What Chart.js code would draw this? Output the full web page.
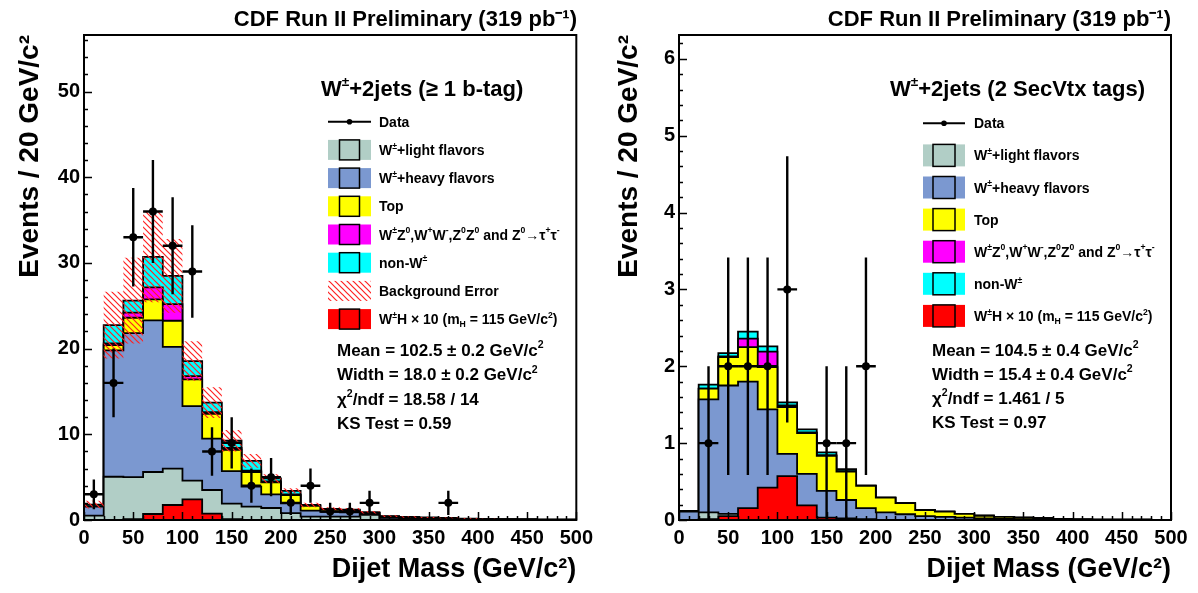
<!DOCTYPE html>
<html><head><meta charset="utf-8">
<script src="https://cdn.jsdelivr.net/npm/chart.js@4.4.1/dist/chart.umd.min.js"></script>
<style>
html,body{margin:0;padding:0;background:#fff;}
#wrap{position:relative;width:1198px;height:593px;overflow:hidden;}
canvas{position:absolute;top:0;}
#c1{left:0}
#c2{left:599px}
</style></head><body>
<div id="wrap"><canvas id="c1" width="599" height="593"></canvas><canvas id="c2" width="599" height="593"></canvas></div>
<script>
// ---------- data ----------
const massBinLow = [0,20,40,60,80,100,120,140,160,180,200,220,240,260,280,300,320,340,360,380,400,420,440,460,480];
const massBinWidth = 20;
const massMax = 500;

// Left: W+2jets (>= 1 b-tag)
const btagData     = [3,16,33,36,32,29,8,9,4,5,2,4,1,1,2,0,0,0,2,0,0,0,0,0,0];
const btagLight    = [0.5,5.05,5.0,5.6,6.0,4.6,3.5,1.9,1.55,1.4,0.8,0.4,0.4,0.4,0.6,0.1,0.05,0.05,0.05,0.02,0.02,0.01,0.01,0,0];
const btagHeavy    = [1.05,14.75,16.8,17.7,14.2,8.7,6.0,3.8,2.35,1.6,1.15,0.7,0.55,0.5,0.2,0.2,0.15,0.1,0.05,0.06,0.04,0.03,0.02,0.02,0.01];
const btagTop      = [0,0.6,1.8,2.45,3.05,3.1,2.9,2.5,1.7,1.4,0.95,0.55,0.25,0.2,0.05,0.1,0.1,0.1,0.1,0.04,0.04,0.03,0.03,0.02,0.02];
const btagDiboson  = [0.05,0.2,0.6,1.4,1.95,0.4,0.2,0.2,0.15,0.1,0.1,0.05,0.05,0.05,0,0,0,0,0,0,0,0,0,0,0];
const btagNonW     = [0.2,2.15,1.4,3.55,3.3,1.75,1.1,0.85,1.15,0.35,0.4,0.05,0.05,0.05,0.05,0.05,0.05,0.05,0.05,0.03,0.02,0.02,0.01,0.01,0.01];
const btagBkgError = [0.45,3.9,5.0,5.3,4.3,2.3,1.8,1.25,0.8,0.5,0.3,0.25,0.2,0.2,0.15,0.1,0.08,0.06,0.05,0.04,0.03,0.02,0.02,0.01,0.01];
const btagHiggs    = [0,0,0.1,0.7,1.75,2.4,0.75,0.1,0,0,0,0,0,0,0,0,0,0,0,0,0,0,0,0,0];

// Right: W+2jets (2 SecVtx tags)
const svtxData     = [0,1,2,2,2,3,0,1,1,2,0,0,0,0,0,0,0,0,0,0,0,0,0,0,0];
const svtxLight    = [0,0.1,0.08,0.02,0.01,0.01,0.01,0.02,0.02,0.01,0,0,0,0,0,0,0,0,0,0,0,0,0,0,0];
const svtxHeavy    = [0.11,1.47,1.67,1.78,1.43,0.85,0.59,0.36,0.24,0.145,0.1,0.075,0.05,0.04,0.03,0.02,0.015,0.01,0.01,0.005,0,0,0,0,0];
const svtxTop      = [0,0.14,0.37,0.45,0.55,0.61,0.53,0.455,0.37,0.29,0.19,0.145,0.08,0.07,0.05,0.035,0.025,0.02,0.015,0.01,0.008,0.005,0.004,0.003,0.002];
const svtxDiboson  = [0,0,0.01,0.11,0.2,0.02,0.01,0.01,0.005,0,0,0,0,0,0,0,0,0,0,0,0,0,0,0,0];
const svtxNonW     = [0.01,0.05,0.04,0.09,0.07,0.04,0.04,0.035,0.025,0.005,0,0,0,0,0,0,0,0,0,0,0,0,0,0,0];
const svtxHiggs    = [0,0.01,0.05,0.155,0.42,0.57,0.19,0.03,0,0,0,0,0,0,0,0,0,0,0,0,0,0,0,0,0];

const titleText = 'CDF Run II Preliminary (319 pb\u207B\u00B9)';
const xTitle = 'Dijet Mass (GeV/c\u00B2)';
const yTitle = 'Events / 20 GeV/c\u00B2';
const entryLabels = {
  data: 'Data',
  light: 'W^{\u00B1}+light flavors',
  heavy: 'W^{\u00B1}+heavy flavors',
  top: 'Top',
  dib: 'W^{\u00B1}Z^{0},W^{+}W^{-},Z^{0}Z^{0} and Z^{0}\u2192\u03C4^{+}\u03C4^{-}',
  nonw: 'non-W^{\u00B1}',
  err: 'Background Error',
  higgs: 'W^{\u00B1}H \u00D7 10 (m_{H} = 115 GeV/c^{2})'
};
const btagHeader = 'W^{\u00B1}+2jets (\u2265 1 b-tag)';
const svtxHeader = 'W^{\u00B1}+2jets (2 SecVtx tags)';
const btagStats = ['Mean = 102.5 \u00B1 0.2 GeV/c^{2}','Width = 18.0 \u00B1 0.2 GeV/c^{2}','\u03C7^{2}/ndf = 18.58 / 14','KS Test = 0.59'];
const svtxStats = ['Mean = 104.5 \u00B1 0.4 GeV/c^{2}','Width = 15.4 \u00B1 0.4 GeV/c^{2}','\u03C7^{2}/ndf = 1.461 / 5','KS Test = 0.97'];

// ---------- style ----------
const FAM = '"Liberation Sans", Arial, Helvetica, sans-serif';
const COL = {light:'#b1cec6', heavy:'#7b98d0', top:'#ffff00', dib:'#ff00ff', nonw:'#00ffff', higgs:'#ff0000'};

function hatchPattern(){
  const s=6, c=document.createElement('canvas'); c.width=s; c.height=s;
  const g=c.getContext('2d'); g.strokeStyle='#ff2020'; g.lineWidth=1.2; g.lineCap='square';
  g.beginPath(); g.moveTo(0,0); g.lineTo(s,s); g.moveTo(s-1,-1); g.lineTo(s+1,1); g.moveTo(-1,s-1); g.lineTo(1,s+1); g.stroke();
  return g.createPattern(c,'repeat');
}
const HATCH = hatchPattern();

function parseRich(str){
  const out=[]; let i=0, buf='';
  while(i<str.length){
    const ch=str[i];
    if((ch==='^'||ch==='_')&&str[i+1]==='{'){
      if(buf){out.push({t:buf,m:0});buf='';}
      const j=str.indexOf('}',i);
      out.push({t:str.slice(i+2,j),m:ch==='^'?1:-1}); i=j+1;
    } else {buf+=ch;i++;}
  }
  if(buf) out.push({t:buf,m:0});
  return out;
}
function drawRich(ctx,str,x,yc,size,align){
  const segs=parseRich(str); let w=0;
  segs.forEach(s=>{s.sz=s.m?size*0.62:size; ctx.font='bold '+s.sz+'px '+FAM; s.w=ctx.measureText(s.t).width; w+=s.w;});
  let cx = align==='right'? x-w : x;
  const base = yc + size*0.36;
  ctx.textBaseline='alphabetic'; ctx.textAlign='left'; ctx.fillStyle='#000';
  segs.forEach(s=>{
    ctx.font='bold '+s.sz+'px '+FAM;
    const dy = s.m===1 ? -size*0.45 : (s.m===-1 ? size*0.2 : 0);
    ctx.fillText(s.t,cx,base+dy); cx+=s.w;
  });
}

function stepPoints(vals){
  const pts=[{x:massBinLow[0],y:0}];
  vals.forEach((v,i)=>pts.push({x:massBinLow[i],y:v}));
  pts.push({x:massMax,y:vals[vals.length-1]});
  pts.push({x:massMax,y:0});
  return pts;
}
function cumulate(list){
  const res=[]; let acc=new Array(list[0].length).fill(0);
  list.forEach(a=>{acc=acc.map((v,i)=>v+a[i]); res.push(acc.slice());});
  return res;
}
function lineDS(vals,color,order,extra){
  return Object.assign({type:'line',data:stepPoints(vals),stepped:'before',fill:'origin',backgroundColor:color,
    borderColor:'#000',borderWidth:1.8,pointRadius:0,tension:0,order:order},extra||{});
}

function makeChart(id, comp, lay){
  const cum = cumulate([comp.light,comp.heavy,comp.top,comp.dib,comp.nonw]);
  const total = cum[4];
  const datasets = [];
  datasets.push({type:'scatter',data:massBinLow.map((m,i)=>({x:m+massBinWidth/2,y:comp.data[i]>0?comp.data[i]:null})),
    pointRadius:4,pointBackgroundColor:'#000',pointBorderColor:'#000',pointBorderWidth:0,order:0,isData:true});
  datasets.push(lineDS(comp.higgs,COL.higgs,1));
  if(comp.err){
    datasets.push(lineDS(total.map((v,i)=>v+comp.err[i]),HATCH,2,{fill:'+1',borderWidth:0,borderColor:'rgba(0,0,0,0)'}));
    datasets.push(lineDS(total.map((v,i)=>Math.max(0,v-comp.err[i])),'rgba(0,0,0,0)',2,{fill:false,borderWidth:0,borderColor:'rgba(0,0,0,0)'}));
  }
  datasets.push(lineDS(cum[0],COL.light,3));
  datasets.push(lineDS(cum[1],COL.heavy,4));
  datasets.push(lineDS(cum[2],COL.top,5));
  datasets.push(lineDS(cum[3],COL.dib,6));
  datasets.push(lineDS(cum[4],COL.nonw,7));

  const deco = {
    id:'rootDeco',
    beforeDatasetDraw(chart,args){
      const ds=chart.data.datasets[args.index];
      if(!ds.isData) return;
      const {ctx,chartArea:a}=chart, xs=chart.scales.x, ys=chart.scales.y;
      ctx.save(); ctx.beginPath(); ctx.rect(a.left,a.top,a.right-a.left,a.bottom-a.top); ctx.clip();
      ctx.strokeStyle='#000'; ctx.lineWidth=2.4; ctx.lineCap='butt';
      ds.data.forEach(p=>{
        if(p.y==null) return;
        const e=Math.sqrt(p.y), px=xs.getPixelForValue(p.x), py=ys.getPixelForValue(p.y);
        ctx.beginPath();
        ctx.moveTo(px,ys.getPixelForValue(p.y+e)); ctx.lineTo(px,ys.getPixelForValue(Math.max(0,p.y-e)));
        ctx.moveTo(xs.getPixelForValue(p.x-massBinWidth/2),py); ctx.lineTo(xs.getPixelForValue(p.x+massBinWidth/2),py);
        ctx.stroke();
      });
      ctx.restore();
    },
    afterDraw(chart){
      const {ctx,chartArea:a}=chart, xs=chart.scales.x, ys=chart.scales.y;
      ctx.save();
      ctx.strokeStyle='#000'; ctx.lineWidth=1.5;
      ctx.beginPath();
      for(let v=0; v<=massMax+1e-6; v+=10){
        const px=Math.round(xs.getPixelForValue(v))+0.5, L=(v%50===0)?8:4;
        ctx.moveTo(px,a.bottom); ctx.lineTo(px,a.bottom-L);
      }
      const nMin=Math.floor(lay.yMax/lay.yMinor+1e-6);
      for(let k=0;k<=nMin;k++){
        const v=k*lay.yMinor; if(v>lay.yMax) continue;
        const py=Math.round(ys.getPixelForValue(v))+0.5;
        const major=Math.abs(v/lay.yMajor-Math.round(v/lay.yMajor))<1e-6;
        ctx.moveTo(a.left,py); ctx.lineTo(a.left+(major?8:4),py);
      }
      ctx.stroke();
      ctx.lineWidth=2; ctx.strokeRect(a.left,a.top,a.right-a.left,a.bottom-a.top);
      const L=lay.legend;
      drawRich(ctx,L.header,L.headerX,L.headerY,22,'left');
      L.entries.forEach((en,i)=>{
        const y=L.y0+i*L.dy, bx=L.boxX, bw=L.boxW, bh=L.boxH;
        if(en.kind==='data'){
          ctx.strokeStyle='#000'; ctx.lineWidth=2; ctx.beginPath(); ctx.moveTo(bx,y); ctx.lineTo(bx+bw,y); ctx.stroke();
          ctx.fillStyle='#000'; ctx.beginPath(); ctx.arc(bx+bw/2,y,2.8,0,Math.PI*2); ctx.fill();
        } else if(en.kind==='hatch'){
          ctx.fillStyle=HATCH; ctx.fillRect(bx,y-bh/2,bw,bh);
        } else {
          ctx.fillStyle=en.color; ctx.fillRect(bx,y-bh/2,bw,bh);
          ctx.strokeStyle='#000'; ctx.lineWidth=1.5;
          ctx.strokeRect(bx+bw/2-bh/2,y-bh/2,bh,bh);
        }
        drawRich(ctx,en.label,L.textX,y,14,'left');
      });
      L.stats.forEach((s,i)=>drawRich(ctx,s,L.statX,L.statY0+i*L.statDy,17,'left'));
      ctx.restore();
    }
  };

  return new Chart(document.getElementById(id),{
    data:{datasets},
    options:{
      responsive:false, animation:false, events:[],
      layout:{padding:{left:10,right:lay.padRight,top:0,bottom:5}},
      plugins:{
        legend:{display:false}, tooltip:{enabled:false},
        title:{display:true,text:titleText,align:'end',color:'#000',font:{family:FAM,size:22,weight:'bold',lineHeight:1.2},padding:{top:7,bottom:1.6}}
      },
      scales:{
        x:{type:'linear',min:0,max:massMax,
          grid:{display:false,drawTicks:false}, border:{display:false},
          ticks:{stepSize:50,color:'#000',padding:6,maxRotation:0,font:{family:FAM,size:20,weight:'bold'}},
          title:{display:true,text:xTitle,align:'end',color:'#000',font:{family:FAM,size:27,weight:'bold',lineHeight:1.2},padding:{top:0,bottom:2}},
          afterFit:s=>{s.height=68;}
        },
        y:{type:'linear',min:0,max:lay.yMax,
          grid:{display:false,drawTicks:false}, border:{display:false},
          ticks:{stepSize:lay.yMajor,includeBounds:false,color:'#000',padding:4,font:{family:FAM,size:20,weight:'bold'}},
          title:{display:true,text:yTitle,align:'end',color:'#000',font:{family:FAM,size:28,weight:'bold',lineHeight:1.2},padding:{top:3,bottom:0}},
          afterFit:s=>{s.width=lay.yWidth;}
        }
      }
    },
    plugins:[deco]
  });
}

makeChart('c1',
  {data:btagData,light:btagLight,heavy:btagHeavy,top:btagTop,dib:btagDiboson,nonw:btagNonW,err:btagBkgError,higgs:btagHiggs},
  {yMax:56.6,yMajor:10,yMinor:2,yWidth:74,padRight:22,
   legend:{header:btagHeader,headerX:321,headerY:88,boxX:328,boxW:43,boxH:20,textX:379,y0:121.7,dy:28.2,
     entries:[{kind:'data',label:entryLabels.data},{kind:'box',color:COL.light,label:entryLabels.light},{kind:'box',color:COL.heavy,label:entryLabels.heavy},
       {kind:'box',color:COL.top,label:entryLabels.top},{kind:'box',color:COL.dib,label:entryLabels.dib},{kind:'box',color:COL.nonw,label:entryLabels.nonw},
       {kind:'hatch',label:entryLabels.err},{kind:'box',color:COL.higgs,label:entryLabels.higgs}],
     stats:btagStats,statX:337,statY0:350,statDy:24.2}});

makeChart('c2',
  {data:svtxData,light:svtxLight,heavy:svtxHeavy,top:svtxTop,dib:svtxDiboson,nonw:svtxNonW,err:null,higgs:svtxHiggs},
  {yMax:6.31,yMajor:1,yMinor:0.2,yWidth:70,padRight:27,
   legend:{header:svtxHeader,headerX:291,headerY:88,boxX:324,boxW:42,boxH:22,textX:375,y0:123.3,dy:32.1,
     entries:[{kind:'data',label:entryLabels.data},{kind:'box',color:COL.light,label:entryLabels.light},{kind:'box',color:COL.heavy,label:entryLabels.heavy},
       {kind:'box',color:COL.top,label:entryLabels.top},{kind:'box',color:COL.dib,label:entryLabels.dib},{kind:'box',color:COL.nonw,label:entryLabels.nonw},
       {kind:'box',color:COL.higgs,label:entryLabels.higgs}],
     stats:svtxStats,statX:333,statY0:350,statDy:23.9}});
</script>
</body></html>
